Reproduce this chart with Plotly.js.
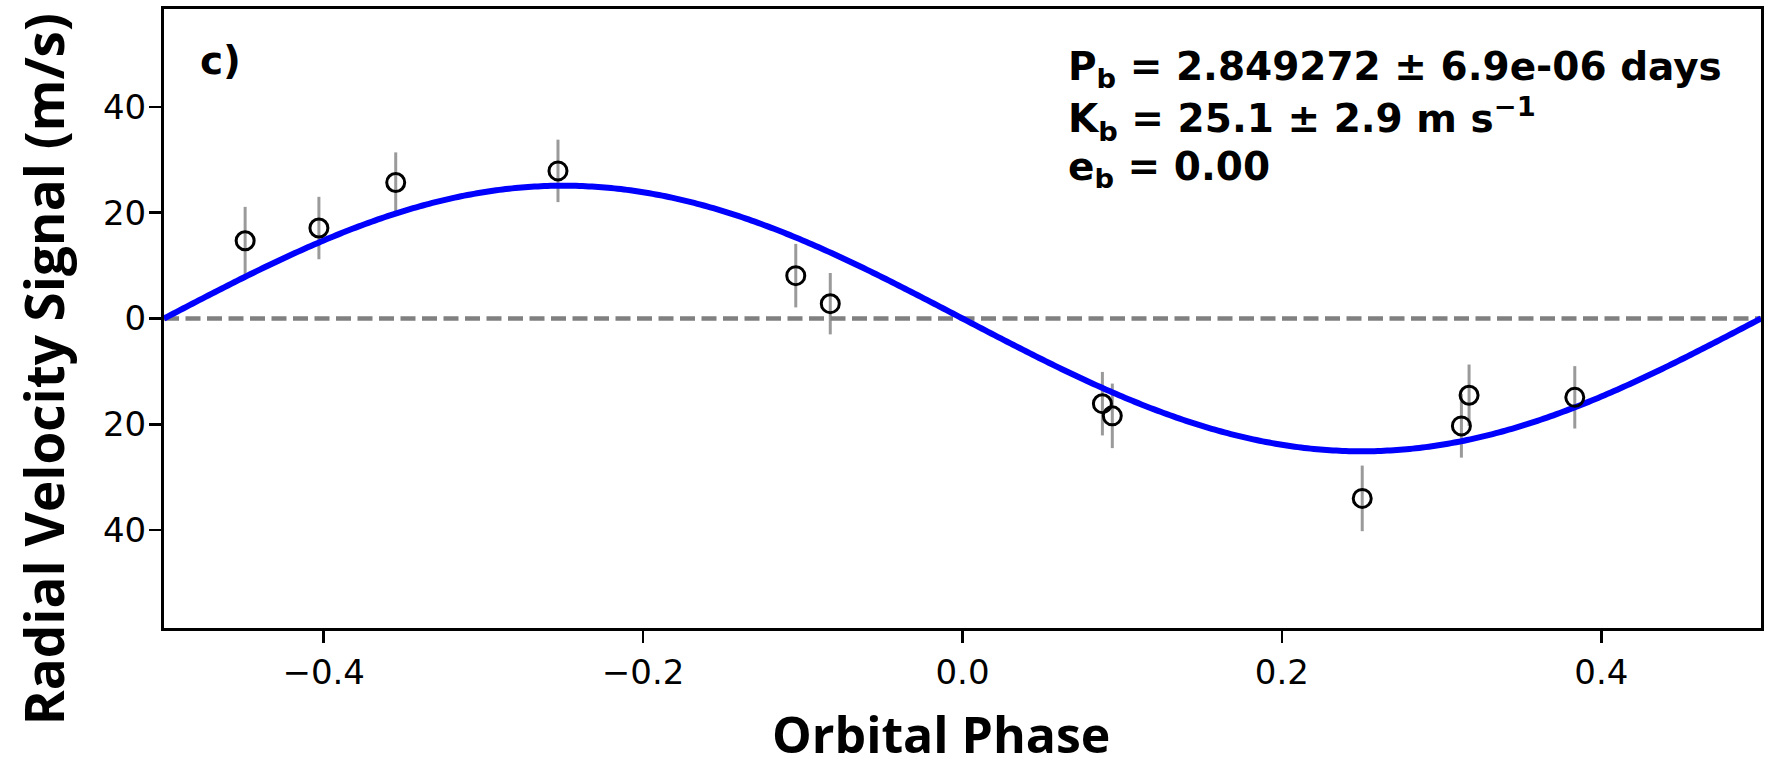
<!DOCTYPE html>
<html>
<head>
<meta charset="utf-8">
<script src="https://cdn.plot.ly/plotly-3.0.1.min.js"></script>
<style>
  html, body { margin: 0; padding: 0; background: #ffffff; }
  #plot { width: 1766px; height: 758px; }
</style>
</head>
<body>
<div id="plot"></div>
<script>
// Phase-folded RV measurements
const phase = [-0.4492, -0.4030, -0.3549, -0.2533, -0.1044, -0.0828, 0.0876, 0.0938, 0.2503, 0.3124, 0.3172, 0.3834];
const rv    = [14.7, 17.1, 25.7, 27.9, 8.1, 2.8, -16.1, -18.4, -34.0, -20.3, -14.5, -14.9];
const rvErr = [6.4, 5.9, 5.7, 5.9, 6.0, 5.8, 6.0, 6.1, 6.2, 6.0, 5.8, 5.9];

// Fitted orbital parameters (circular orbit)
const periodDays = "2.849272";
const periodErr = "6.9e-06";
const semiAmp = 25.1;
const semiAmpErr = 2.9;
const ecc = 0.00;

// Tick labels
const xTickVals = [-0.4, -0.2, 0.0, 0.2, 0.4];
const xTickText = ["\u22120.4", "\u22120.2", "0.0", "0.2", "0.4"];
const yTickVals = [-40, -20, 0, 20, 40];
const yTickText = ["40", "20", "0", "20", "40"];

// Keplerian model curve for e = 0: v(phi) = -K sin(2 pi phi)
const nModel = 500;
const modelPhase = [];
const modelRv = [];
for (let i = 0; i <= nModel; i++) {
  const p = -0.5 + i / nModel;
  modelPhase.push(p);
  modelRv.push(-semiAmp * Math.sin(2 * Math.PI * p));
}

const errTrace = {
  x: phase, y: rv, type: 'scatter', mode: 'markers',
  marker: { size: 1, color: 'rgba(0,0,0,0)' },
  error_y: { type: 'data', array: rvErr, visible: true, color: '#9a9a9a', thickness: 3, width: 0 },
  hoverinfo: 'skip', showlegend: false
};
const zeroTrace = {
  x: [-0.5, 0.5], y: [0, 0], type: 'scatter', mode: 'lines',
  line: { color: '#808080', width: 4.5, dash: '15px,6.5px' },
  showlegend: false
};
const modelTrace = {
  x: modelPhase, y: modelRv, type: 'scatter', mode: 'lines',
  line: { color: '#0000ff', width: 6, simplify: false },
  showlegend: false
};
const ptTrace = {
  x: phase, y: rv, type: 'scatter', mode: 'markers',
  marker: { symbol: 'circle-open', size: 18, color: '#000000', line: { width: 3, color: '#000000' } },
  showlegend: false
};

const annFont = { family: 'DejaVu Sans, sans-serif', size: 39, color: '#000000' };
const tickFont = { family: 'DejaVu Sans, sans-serif', size: 34, color: '#000000' };

const layout = {
  width: 1766, height: 758,
  paper_bgcolor: '#ffffff', plot_bgcolor: '#ffffff',
  margin: { l: 164, r: 5, t: 9, b: 130 },
  showlegend: false,
  xaxis: {
    range: [-0.5, 0.5], tickvals: xTickVals, ticktext: xTickText,
    showgrid: false, zeroline: false,
    showline: true, linecolor: '#000000', linewidth: 3, mirror: true,
    ticks: 'outside', ticklen: 12, tickwidth: 2.5, tickcolor: '#000000',
    tickfont: tickFont
  },
  yaxis: {
    range: [-58.5, 58.5], tickvals: yTickVals, ticktext: yTickText,
    showgrid: false, zeroline: false,
    showline: true, linecolor: '#000000', linewidth: 3, mirror: true,
    ticks: 'outside', ticklen: 12, tickwidth: 2.5, tickcolor: '#000000',
    ticklabelstandoff: -4,
    tickfont: tickFont
  },
  annotations: [
    { text: '<b>Orbital Phase</b>', xref: 'paper', yref: 'paper', x: 0.4865, y: -0.172,
      xanchor: 'center', yanchor: 'middle', showarrow: false,
      font: { family: 'Open Sans, sans-serif', size: 50, color: '#000000' } },
    { text: '<b>Radial Velocity Signal (m/s)</b>', xref: 'paper', yref: 'paper', x: -0.0758, y: 0.418,
      xanchor: 'center', yanchor: 'middle', textangle: -90, showarrow: false,
      font: { family: 'Open Sans, sans-serif', size: 53, color: '#000000' } },
    { text: '<b>c)</b>', xref: 'x', yref: 'y', x: -0.479, y: 48.8,
      xanchor: 'left', yanchor: 'middle', showarrow: false, font: annFont },
    { text: '<b>P<sub>b</sub> = ' + periodDays + ' \u00b1 ' + periodErr + ' days</b>', xref: 'x', yref: 'y',
      x: 0.0645, y: 47.2, xanchor: 'left', yanchor: 'middle', showarrow: false, font: annFont },
    { text: '<b>K<sub>b</sub> = ' + semiAmp.toFixed(1) + ' \u00b1 ' + semiAmpErr.toFixed(1) + ' m s<sup>\u22121</sup></b>', xref: 'x', yref: 'y',
      x: 0.0645, y: 37.8, xanchor: 'left', yanchor: 'middle', showarrow: false, font: annFont },
    { text: '<b>e<sub>b</sub> = ' + ecc.toFixed(2) + '</b>', xref: 'x', yref: 'y',
      x: 0.0645, y: 28.3, xanchor: 'left', yanchor: 'middle', showarrow: false, font: annFont }
  ]
};

Plotly.newPlot('plot', [errTrace, zeroTrace, modelTrace, ptTrace], layout, { staticPlot: true, displayModeBar: false });
</script>
</body>
</html>
